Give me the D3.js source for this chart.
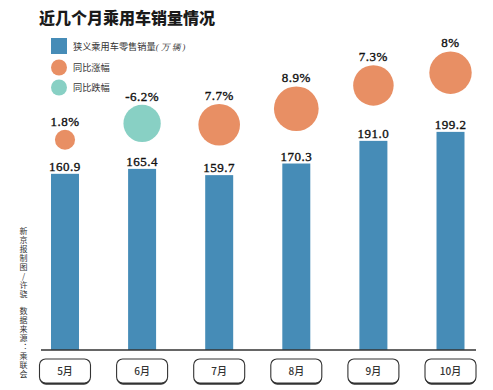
<!DOCTYPE html>
<html>
<head>
<meta charset="utf-8">
<script src="https://cdn.jsdelivr.net/npm/d3@7/dist/d3.min.js"></script>
<style>
  html, body { margin: 0; padding: 0; background: #fff; }
  svg { display: block; }
</style>
</head>
<body>
<svg id="chart" width="493" height="390"></svg>
<script>
const months = ["5月", "6月", "7月", "8月", "9月", "10月"];
const sales = [160.9, 165.4, 159.7, 170.3, 191.0, 199.2];
const salesLabels = ["160.9", "165.4", "159.7", "170.3", "191.0", "199.2"];
const yoy = [1.8, -6.2, 7.7, 8.9, 7.3, 8];
const yoyLabels = ["1.8%", "-6.2%", "7.7%", "8.9%", "7.3%", "8%"];
const title = "近几个月乘用车销量情况";
const legendItems = ["狭义乘用车零售销量", "同比涨幅", "同比跌幅"];
const legendUnit = "(万辆)";
const credits = ["新京报制图/许骁", "数据来源：乘联会"];

const BLUE = "#468cb7", ORANGE = "#e88f64", TEAL = "#88d0c4";
const svg = d3.select("#chart");

const x = d3.scaleBand().domain(months).range([51, 464.5]).paddingInner(0.637).paddingOuter(0);
const y = d3.scaleLinear().domain([0, 200]).range([350, 131]);
const r = d3.scaleSqrt().domain([0, 10]).range([0, 23.7]);

const serif = "'Liberation Serif', 'DejaVu Serif', serif";
const sans = "'Noto Sans CJK SC', 'Noto Sans', sans-serif";

// title
svg.append("text").attr("x", 39).attr("y", 24)
  .attr("font-family", sans).attr("font-weight", 900).attr("font-size", 16)
  .attr("fill", "#1a1a1a").text(title);

// legend
const lg = svg.append("g").attr("font-family", sans).attr("font-size", 9.2).attr("fill", "#333");
lg.append("rect").attr("x", 51).attr("y", 38).attr("width", 16).attr("height", 16).attr("fill", BLUE);
lg.append("circle").attr("cx", 59).attr("cy", 67.5).attr("r", 8).attr("fill", ORANGE);
lg.append("circle").attr("cx", 59).attr("cy", 87.5).attr("r", 8).attr("fill", TEAL);
const t0 = lg.append("text").attr("x", 73).attr("y", 49.5).text(legendItems[0]);
t0.append("tspan").attr("font-size", 8.5).attr("letter-spacing", 2).attr("font-family", serif)
  .attr("font-style", "italic").text(legendUnit);
lg.append("text").attr("x", 73).attr("y", 71).text(legendItems[1]);
lg.append("text").attr("x", 73).attr("y", 91).text(legendItems[2]);

// bars
const data = months.map((m, i) => ({ m, v: sales[i], lab: salesLabels[i], p: yoy[i], pl: yoyLabels[i], i }));
svg.append("g").selectAll("rect").data(data).join("rect")
  .attr("x", d => x(d.m)).attr("y", d => y(d.v))
  .attr("width", x.bandwidth()).attr("height", d => y(0) - y(d.v))
  .attr("fill", BLUE);

svg.append("g").selectAll("text").data(data).join("text")
  .attr("x", d => x(d.m) + x.bandwidth() / 2).attr("y", d => y(d.v) - 3)
  .attr("text-anchor", "middle").attr("font-family", serif).attr("font-size", 13)
  .attr("letter-spacing", 0.5).attr("font-weight", 400).attr("fill", "#111")
  .attr("stroke", "#111").attr("stroke-width", 0.35).text(d => d.lab);

// bubbles
const cy = d => y(d.v) - r(Math.abs(d.p)) - (24 + 2.8 * d.i);
svg.append("g").selectAll("circle").data(data).join("circle")
  .attr("cx", d => x(d.m) + x.bandwidth() / 2).attr("cy", cy)
  .attr("r", d => r(Math.abs(d.p)))
  .attr("fill", d => d.p < 0 ? TEAL : ORANGE);

svg.append("g").selectAll("text").data(data).join("text")
  .attr("x", d => x(d.m) + x.bandwidth() / 2)
  .attr("y", d => cy(d) - r(Math.abs(d.p)) - 4)
  .attr("text-anchor", "middle").attr("font-family", serif).attr("font-size", 13)
  .attr("letter-spacing", 0.5).attr("font-weight", 400).attr("fill", "#111")
  .attr("stroke", "#111").attr("stroke-width", 0.35).text(d => d.pl);

// baseline
svg.append("line").attr("x1", x.range()[0] - 10).attr("x2", x.range()[1] + 11.5)
  .attr("y1", y(0)).attr("y2", y(0)).attr("stroke", "#333").attr("stroke-width", 1.3);

// month boxes
const bw = 51, bh = 24, by = 359;
const boxes = svg.append("g").selectAll("g").data(data).join("g")
  .attr("transform", d => `translate(${x(d.m) + x.bandwidth() / 2 - bw / 2},${by})`);
boxes.append("rect").attr("x", 0.5).attr("y", 1.8).attr("width", bw - 1).attr("height", bh)
  .attr("rx", 6).attr("fill", "#333");
boxes.append("rect").attr("x", 0).attr("y", 0).attr("width", bw).attr("height", bh)
  .attr("rx", 6).attr("fill", "#fff").attr("stroke", "#333").attr("stroke-width", 1.1);
boxes.append("text").attr("x", bw / 2).attr("y", 16).attr("text-anchor", "middle")
  .attr("font-family", sans).attr("font-weight", 500).attr("font-size", 10)
  .attr("fill", "#333").text(d => d.m);

// vertical credits
const cg = svg.append("g").attr("font-family", sans).attr("font-size", 8).attr("fill", "#333");
const starts = [227, 307];
credits.forEach((s, k) => {
  cg.append("text").attr("x", 23.5).attr("y", starts[k])
    .attr("style", "writing-mode: vertical-rl; text-orientation: upright; letter-spacing: 1px;")
    .text(s);
});
</script>
</body>
</html>
